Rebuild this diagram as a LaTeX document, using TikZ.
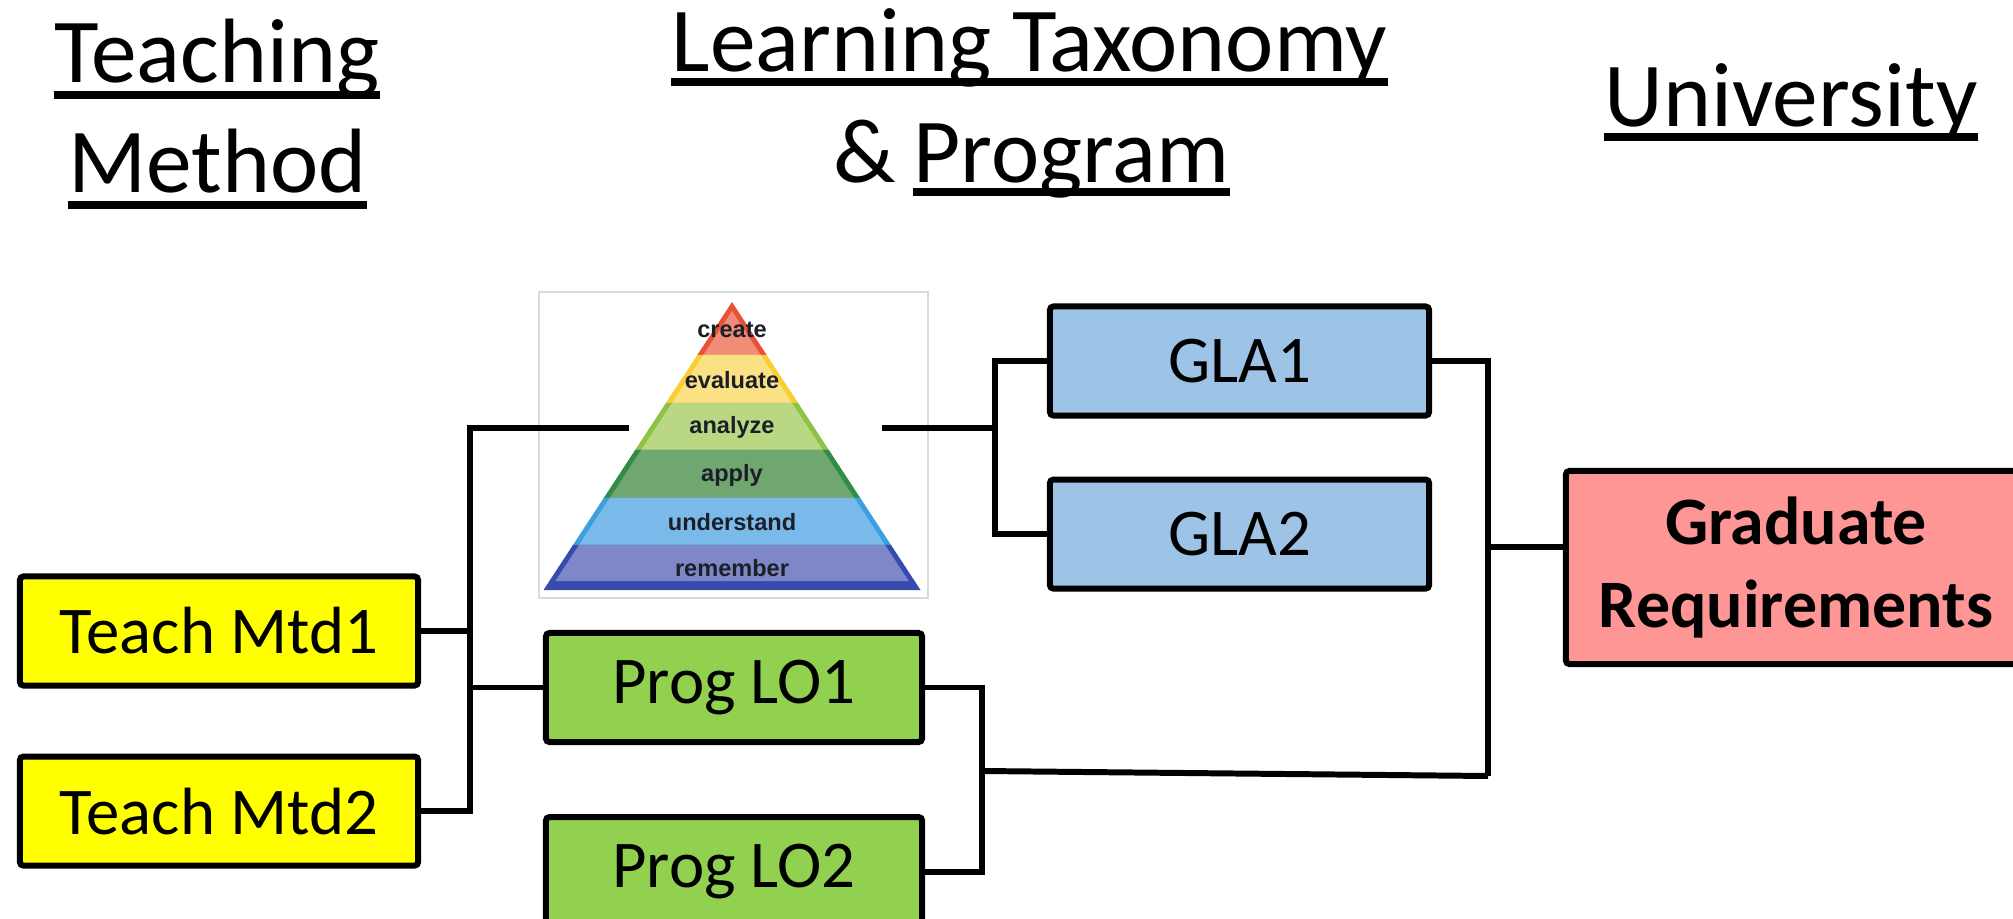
\documentclass[tikz,border=0pt]{standalone}
\usepackage{fontspec}
\setmainfont{Carlito}
\newfontfamily\pyrfont{Liberation Sans}
\usetikzlibrary{positioning, calc}
\definecolor{mtdYellow}{RGB}{255,255,0}
\definecolor{loGreen}{RGB}{146,208,80}
\definecolor{glaBlue}{RGB}{157,195,230}
\definecolor{reqPink}{RGB}{255,150,150}
\definecolor{frameGray}{RGB}{218,218,218}
\definecolor{lvlText}{RGB}{28,30,40}
% bloom levels: edge colour / fill colour
\definecolor{crEdge}{RGB}{232,82,52}
\definecolor{crFill}{RGB}{240,140,120}
\definecolor{evEdge}{RGB}{250,205,50}
\definecolor{evFill}{RGB}{250,226,132}
\definecolor{anEdge}{RGB}{140,195,70}
\definecolor{anFill}{RGB}{186,216,132}
\definecolor{apEdge}{RGB}{48,140,70}
\definecolor{apFill}{RGB}{112,166,112}
\definecolor{unEdge}{RGB}{60,160,222}
\definecolor{unFill}{RGB}{122,186,234}
\definecolor{reEdge}{RGB}{55,75,175}
\definecolor{reFill}{RGB}{126,136,200}

\begin{document}
\begin{tikzpicture}[x=0.01cm, y=-0.01cm,
  box/.style={draw=black, line width=1.7pt, rounded corners=1pt, minimum height=1.09cm, align=center, font=\fontsize{19}{23}\selectfont},
  head/.style={inner sep=0pt, font=\fontsize{26}{30}\selectfont},
  ul/.style={line width=0.08cm},
  wire/.style={line width=1.7pt},
  lvl/.style={inner sep=0pt, text=lvlText, font=\pyrfont\bfseries\fontsize{6.7}{8}\selectfont}
]
  \useasboundingbox (0,0) rectangle (2013,919);

  % column headings
  \node[head, anchor=base] (hTeach) at (217,83) {Teaching};
  \node[head, anchor=base] (hMethod) at (217.5,193) {Method};
  \node[head, anchor=base] (hLearn) at (1029.5,72) {Learning Taxonomy};
  \node[head, anchor=base west] (hProg) at (913,183) {Program};
  \node[head, anchor=base east] (hAmp) at ([xshift=-0.16cm]hProg.base west) {\&};
  \node[head, anchor=base] (hUni) at (1791,127) {University};
  \foreach \h/\d in {hTeach/0.12, hMethod/0.12, hLearn/0.10, hProg/0.09, hUni/0.10}
    \draw[ul] ([yshift=-\d cm]\h.base west) -- ([yshift=-\d cm]\h.base east);

  % taxonomy pyramid
  \node[draw=frameGray, line width=0.4pt, minimum width=3.89cm, minimum height=3.06cm] (pyr) at (733.5,445) {};
  \foreach \yt/\yb/\ybi/\ec/\fc/\word in {302/355/355/crEdge/crFill/create, 355/403/403/evEdge/evFill/evaluate,
      403/450/450/anEdge/anFill/analyze, 450/498/498/apEdge/apFill/apply,
      498/545/545/unEdge/unFill/understand, 545/590/581/reEdge/reFill/remember}{
    \pgfmathsetmacro\wt{0.6545*(\yt-302)}
    \pgfmathsetmacro\wb{0.6545*(\yb-302)}
    \pgfmathsetmacro\yti{max(\yt,311)}
    \pgfmathsetmacro\wti{max(0.6545*(\yti-302)-6,0)}
    \pgfmathsetmacro\wbi{0.6545*(\ybi-302)-6}
    \fill[\ec] (732-\wt,\yt) -- (732+\wt,\yt) -- (732+\wb,\yb) -- (732-\wb,\yb) -- cycle;
    \fill[\fc] (732-\wti,\yti) -- (732+\wti,\yti) -- (732+\wbi,\ybi) -- (732-\wbi,\ybi) -- cycle;
    \node[lvl] at (732,{(\yt+\yb)/2+1}) {\word};
  }
  \coordinate (pyrL) at (629,428);
  \coordinate (pyrR) at (882,428);

  % boxes
  \node[box, fill=mtdYellow, minimum width=3.98cm] (tm1) at (219,631) {Teach Mtd1};
  \node[box, fill=mtdYellow, minimum width=3.98cm, below=0.65cm of tm1] (tm2) {Teach Mtd2};
  \node[box, fill=loGreen, minimum width=3.76cm] (plo1) at (734,687.5) {Prog LO1};
  \node[box, fill=loGreen, minimum width=3.76cm, below=0.69cm of plo1] (plo2) {Prog LO2};
  \node[box, fill=glaBlue, minimum width=3.79cm] (gla1) at (1239.5,361) {GLA1};
  \node[box, fill=glaBlue, minimum width=3.79cm, below=0.58cm of gla1] (gla2) {GLA2};
  \node[box, fill=reqPink, minimum width=4.60cm, minimum height=1.93cm, font=\fontsize{19.3}{23.6}\selectfont\bfseries] (grad) at (1796,567.5) {Graduate\\Requirements};

  % junction points
  \coordinate (jTeach) at (470,428);
  \coordinate (jGla) at (995,428);
  \coordinate (jProg) at (982,771);
  \coordinate (jUni) at (1488,776);

  % connectors
  \draw[wire] (tm1.east) -- (tm1.east -| jTeach);
  \draw[wire] (tm2.east) -| (jTeach) -- (pyrL);
  \draw[wire] (plo1.west) -- (plo1.west -| jTeach);
  \draw[wire] (pyrR) -- (jGla);
  \draw[wire] (gla1.west) -| (jGla) |- (gla2.west);
  \draw[wire] (plo1.east) -| (jProg) |- (plo2.east);
  \draw[wire] (jProg) -- (jUni);
  \draw[wire] (gla1.east) -| (jUni);
  \draw[wire] ([yshift=0.2cm]grad.west) -- ([yshift=0.2cm]grad.west -| jUni);
\end{tikzpicture}
\end{document}
